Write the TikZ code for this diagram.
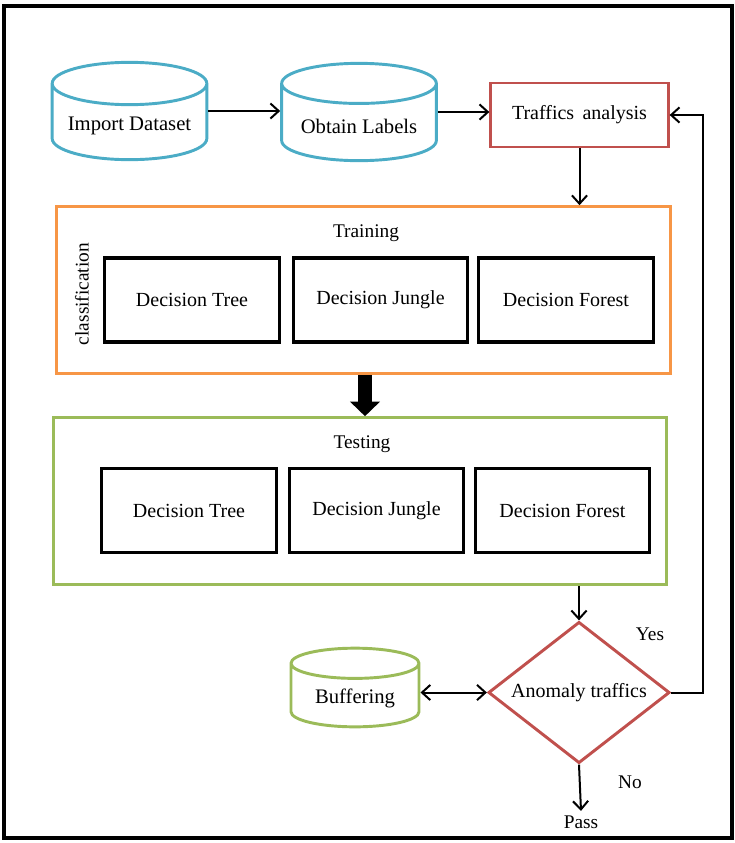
\documentclass[tikz,border=0pt]{standalone}
\usepackage{fontspec}
\setmainfont{Liberation Serif}
\usetikzlibrary{arrows.meta,positioning,shapes.geometric,calc}
\definecolor{dbblue}{RGB}{75,172,198}
\definecolor{alertred}{RGB}{192,80,77}
\definecolor{trainorange}{RGB}{247,150,70}
\definecolor{testgreen}{RGB}{155,187,89}
\tikzset{
  store/.style={cylinder,shape border rotate=90,aspect=0.32,draw=dbblue,
    line width=2.2pt,fill=white,minimum width=116pt,minimum height=73pt,
    anchor=shape center,align=center,font=\fontsize{15.5}{18}\selectfont},
  stage/.style={draw=alertred,line width=2.2pt,minimum width=133pt,
    minimum height=48pt,align=center,font=\fontsize{15}{18}\selectfont},
  phase/.style={draw,line width=2.2pt,minimum width=460pt,minimum height=125pt},
  model/.style={draw,line width=2.4pt,minimum width=131pt,minimum height=63pt,
    align=center,font=\fontsize{15}{18}\selectfont},
  check/.style={diamond,draw=alertred,line width=2.2pt,aspect=1.29,inner sep=0pt,
    minimum width=136pt,minimum height=106pt,font=\fontsize{15}{18}\selectfont},
  lbl/.style={font=\fontsize{14.5}{17}\selectfont},
  barb/.tip={Straight Barb[length=2.2mm,width=4mm]},
  flow/.style={-barb,line width=1.5pt},
  bigflow/.style={-{Triangle[length=11pt,width=22pt]},line width=10pt},
}
\begin{document}
\begin{tikzpicture}[x=0.75pt,y=-0.75pt]
  \useasboundingbox (0,0) rectangle (735,843);
  \node[draw,line width=2.4pt,minimum width=546pt,minimum height=624pt]
    (frame) at (368,422) {};

  % data sources
  \node[store] (import) at (129.5,111) {Import Dataset};
  \node[store] (labels) at (359,112) {Obtain Labels};
  \node[stage] (traffic) at (579.5,115) {Traffics\, analysis};

  \draw[flow] (import.shape center -| import.east) -- (import.shape center -| labels.west);
  \draw[flow] (labels.shape center -| labels.east) -- (labels.shape center -| traffic.west);

  % training phase
  \node[phase,draw=trainorange] (training) at (363.5,290) {};
  \node[lbl] (traintitle) at (366,233) {Training};
  \node[lbl,rotate=90] (classif) at (82,294) {classification};
  \node[model] (trtree)   at (192,300)   {Decision Tree};
  \node[model] (trjungle) at (380.5,300) {Decision Jungle};
  \node[model] (trforest) at (566,300)   {Decision Forest};

  \draw[flow] (traffic.south) -- (traffic.south |- training.north);

  % testing phase
  \node[phase,draw=testgreen] (testing) at (360,501) {};
  \node[lbl] (testtitle) at (362,444) {Testing};
  \node[model] (tetree)   at (189,510.5)   {Decision Tree};
  \node[model] (tejungle) at (376.5,510.5) {Decision Jungle};
  \node[model] (teforest) at (562.5,510.5) {Decision Forest};

  \draw[bigflow] ($(training.south)+(1.5,0)$) -- ($(training.south |- testing.north)+(1.5,0)$);

  % decision on the result
  \node[check] (anomaly) at (579,692.5) {Anomaly traffics};
  \node[store,draw=testgreen,aspect=0.34,minimum width=96pt,minimum height=59pt]
    (buffer) at (355,687.5) {Buffering};
  \node[lbl] (pass) at (581,822) {Pass};
  \node[lbl] (yes) at (650,634) {Yes};
  \node[lbl] (no) at (630,782) {No};
  \coordinate (back) at (703,692.5);

  \draw[flow] (anomaly.north |- testing.south) -- (anomaly.north);
  \draw[flow,barb-barb] (buffer.east |- anomaly.west) -- (anomaly.west);
  \draw[flow] (anomaly.south) -- (pass.north);
  \draw[flow] (anomaly.east) -- (back) |- (traffic.east);
\end{tikzpicture}
\end{document}
